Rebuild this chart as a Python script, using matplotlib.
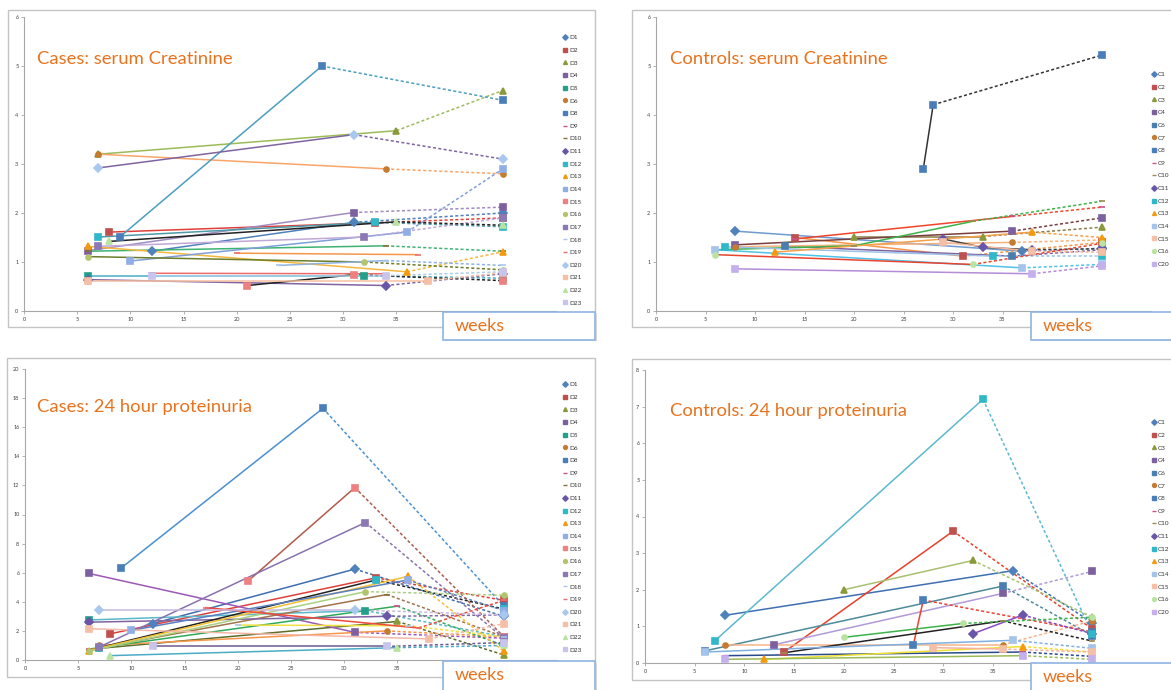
import matplotlib
matplotlib.use("Agg")
import matplotlib.pyplot as plt
from matplotlib.lines import Line2D
from matplotlib.patches import Rectangle

plt.rcParams['font.family'] = ['Lato', 'DejaVu Sans']

# ---- legend entries ----
d_names = ['D1', 'D2', 'D3', 'D4', 'D5', 'D6', 'D8', 'D9', 'D10', 'D11', 'D12',
           'D13', 'D14', 'D15', 'D16', 'D17', 'D18', 'D19', 'D20', 'D21', 'D22', 'D23']
c_names = ['C1', 'C2', 'C3', 'C4', 'C6', 'C7', 'C8', 'C9', 'C10', 'C11', 'C12',
           'C13', 'C14', 'C15', 'C16', 'C20']

# ---- Cases: serum creatinine (weeks, mg/dl) ----
cases_crea_x = [[12, 31, 45], [8, 33, 45], [7, 35, 45], [6, 31, 45], [6, 32, 45],
                [7, 34, 45], [9, 28, 45], [12, 34], [6, 34, 45], [6, 34, 45],
                [7, 33, 45], [6, 36, 45], [10, 36, 45], [21, 31, 45], [6, 32, 45],
                [7, 32, 45], [24, 34, 45], [20, 37], [7, 31, 45], [6, 38, 45],
                [8, 35, 45], [12, 34, 45]]
cases_crea_y = [[1.22, 1.81, 2.0], [1.61, 1.80, 1.90], [3.20, 3.68, 4.50], [1.23, 2.01, 2.12],
                [0.72, 0.72, 0.67], [3.20, 2.90, 2.80], [1.51, 5.00, 4.30], [0.77, 0.76],
                [1.22, 1.33, 1.22], [0.64, 0.52, 0.76], [1.51, 1.81, 1.72], [1.32, 0.80, 1.21],
                [1.02, 1.61, 2.90], [0.52, 0.74, 0.62], [1.11, 1.00, 0.84], [1.32, 1.51, 1.90],
                [0.93, 1.03, 0.93], [1.18, 1.15], [2.92, 3.60, 3.10], [0.62, 0.62, 0.78],
                [1.42, 1.82, 1.75], [0.72, 0.72, 0.80]]

# ---- Controls: serum creatinine ----
ctrl_crea_x = [[8, 37, 45], [14, 31, 45], [20, 33, 45], [8, 36, 45], [13, 36, 45],
               [8, 36, 45], [27, 28, 45], [14, 36, 45], [6, 20, 32, 45], [29, 33, 38, 45],
               [7, 34, 45], [12, 38, 45], [6, 37, 45], [29, 38, 45], [6, 32, 45], [8, 38, 45]]
ctrl_crea_y = [[1.63, 1.22, 1.28], [1.50, 1.12, 1.40], [1.52, 1.52, 1.71], [1.35, 1.63, 1.90],
               [1.32, 1.12, 1.25], [1.31, 1.40, 1.45], [2.90, 4.21, 5.22], [1.47, 1.93, 2.12],
               [1.25, 1.33, 1.83, 2.24], [1.47, 1.30, 1.25, 1.27], [1.31, 1.12, 1.12],
               [1.20, 1.61, 1.50], [1.25, 0.88, 0.95], [1.40, 1.22, 1.20], [1.15, 0.95, 1.38],
               [0.86, 0.76, 0.92]]

# ---- Cases: 24 hour proteinuria (g/24h) ----
cases_prot_x = [[12, 31, 45], [8, 33, 45], [7, 35, 45], [6, 31, 45], [6, 32, 45],
                [7, 34, 45], [9, 28, 45], [6, 35, 45], [6, 34, 45], [6, 34, 45],
                [7, 33, 45], [6, 36, 45], [10, 36, 45], [21, 31, 45], [6, 32, 45],
                [7, 32, 45], [20, 36, 45], [17, 37, 45], [7, 31, 45], [6, 38, 45],
                [8, 35, 45], [12, 34, 45]]
cases_prot_y = [[2.5, 6.25, 3.0], [1.8, 5.65, 4.1], [0.8, 2.65, 0.35], [5.95, 1.9, 1.5],
                [2.75, 3.4, 1.6], [1.0, 2.0, 1.6], [6.3, 17.3, 3.7], [0.75, 3.7, 1.0],
                [0.7, 4.5, 1.6], [2.6, 3.0, 3.1], [0.85, 5.5, 3.5], [0.65, 5.75, 0.6],
                [2.04, 5.5, 3.4], [5.45, 11.85, 1.6], [0.6, 4.7, 4.45], [0.9, 9.45, 1.5],
                [2.4, 2.35, 1.6], [3.6, 2.2, 4.1], [3.45, 3.45, 3.1], [2.15, 1.45, 2.5],
                [0.3, 0.85, 1.0], [0.93, 0.93, 1.2]]

# ---- Controls: 24 hour proteinuria ----
ctrl_prot_x = [[8, 37, 45], [14, 31, 45], [20, 33, 45], [13, 36, 45], [6, 36, 45],
               [8, 36, 45], [27, 28, 45], [8, 38, 45], [14, 36, 45], [33, 38, 45],
               [7, 34, 45], [12, 38, 45], [6, 37, 45], [29, 36, 45], [20, 32, 45], [8, 38, 45]]
ctrl_prot_y = [[1.3, 2.52, 1.1], [0.3, 3.6, 0.93], [2.0, 2.8, 1.25], [0.5, 1.9, 2.5],
               [0.33, 2.1, 0.75], [0.5, 0.5, 1.15], [0.5, 1.72, 0.85], [0.2, 0.3, 0.18],
               [0.28, 1.15, 0.6], [0.8, 1.31, 0.8], [0.6, 7.2, 0.8], [0.1, 0.45, 0.3],
               [0.3, 0.62, 0.4], [0.42, 0.38, 0.3], [0.7, 1.08, 1.25], [0.1, 0.2, 0.1]]

# ---- styles ----
d_markers = ['D', 's', '^', 's', 's', 'o', 's', '_', '_', 'D', 's',
             '^', 's', 's', 'o', 's', '_', '_', 'D', 's', '^', 's']
d_mcolors = ['#4F81BD', '#C0504D', '#8A9A3B', '#7D60A0', '#23A08C', '#C57C30', '#4A7EBB',
             '#D0508A', '#8B6F3A', '#6A56A8', '#2FB8C8', '#F39A0E', '#8FAEE6', '#EE8080',
             '#B2C46C', '#8B78B4', '#A8C8F0', '#F07070', '#A8C8F0', '#F5BFA6', '#B8E4A0',
             '#C8C4EC']
c_markers = ['D', 's', '^', 's', 's', 'o', 's', '_', '_', 'D', 's', '^', 's', 's', 'o', 's']
c_mcolors = ['#4F81BD', '#C0504D', '#8A9A3B', '#7D60A0', '#4A7EAE', '#C57C30', '#4A7EBB',
             '#D0508A', '#9C8A50', '#6A56A8', '#2FB8C8', '#F39A0E', '#A6C4EA', '#F5BFA6',
             '#B8E4A0', '#C4B0EC']

cases_crea_lc = ['#4F81BD', '#E0403A', '#9BBB59', '#A08CC0', '#4BACC6', '#F8A66A', '#4A9EC0',
                 '#F06A6A', '#3CB371', '#8064A2', '#4F9AA8', '#F5B83D', '#7F9FD8', '#222222',
                 '#6B7D2A', '#C0A8D8', '#8DB4E2', '#F7964A', '#8064A2', '#F7C0A0', '#222222',
                 '#A8D0E8']
ctrl_crea_lc = ['#6E9BD0', '#F7964A', '#8B7D4A', '#7A3E3E', '#8064A2', '#F7B27A', '#333333',
                '#F0452A', '#3CB34A', '#404040', '#9CC3E6', '#F7A04A', '#4DC3E8', '#F4B89A',
                '#E8442E', '#B48CD8']
cases_prot_lc = ['#3E6FB0', '#E0403A', '#5A6E2A', '#9B59B6', '#5BB8C8', '#F7964A', '#4A90D0',
                 '#2EAA5A', '#A0744A', '#8064A2', '#222222', '#F5C030', '#5A7FC0', '#B05A4A',
                 '#A8D080', '#8872B0', '#F0E040', '#F04A3A', '#C8B8E0', '#F4B8A8', '#4BACC6',
                 '#6E5A8E']
ctrl_prot_lc = ['#3E6FB0', '#E8402A', '#A8C070', '#B09AD8', '#4F8A9A', '#F7B48A', '#F04030',
                '#2A4A8A', '#222222', '#8A4AC0', '#5BB8D0', '#F0E030', '#7FB0E0', '#F4B0A0',
                '#3CB34A', '#9BBB59']

ORANGE = '#E8731E'
W, H = 1171, 690
fig = plt.figure(figsize=(W / 100, H / 100), dpi=100)


def fig_box(x0, y0, x1, y1):
    # pixel box (top-left origin) -> figure fraction rect
    return [x0 / W, 1 - y1 / H, (x1 - x0) / W, (y1 - y0) / H]


def frame(x0, y0, x1, y1):
    l, b, w, h = fig_box(x0, y0, x1, y1)
    fig.add_artist(Rectangle((l, b), w, h, transform=fig.transFigure, fill=False,
                             ec='#C4C4C4', lw=1.0, zorder=0))


def weeks_box(x0, y0, x1, y1):
    l, b, w, h = fig_box(x0, y0, x1, y1)
    fig.add_artist(Rectangle((l + 1.5 / W, b - 1.5 / H), w, h, transform=fig.transFigure,
                             fc='#D8D8D8', ec='none', zorder=9))
    fig.add_artist(Rectangle((l, b), w, h, transform=fig.transFigure, fc='white',
                             ec='#8EB4E3', lw=1.2, zorder=10))
    fig.text((x0 + 12) / W, 1 - (y0 + 14) / H, 'weeks', color=ORANGE, fontsize=13,
             va='center', ha='left', zorder=11)


def panel(rect, xs, ys, names, markers, mcolors, lcolors, ymax, ystep, title, tpos, legpos):
    ax = fig.add_axes(fig_box(*rect))
    for x, y, m, mc, lc in zip(xs, ys, markers, mcolors, lcolors):
        if x[-1] == 45 and len(x) > 1:
            if len(x) > 2:
                ax.plot(x[:-1], y[:-1], color=lc, lw=1.1, zorder=2)
            ax.plot(x[-2:], y[-2:], color=lc, lw=1.1, ls=(0, (2, 1.5)), zorder=2)
        else:
            ax.plot(x, y, color=lc, lw=1.1, zorder=2)
        ms = 5 if m == '_' else (3.6 if m in ('D', 'o') else 4.5)
        ax.plot(x, y, ls='none', marker=m, ms=ms, mfc=mc, mec=mc, mew=1.2, zorder=3)
    ax.set_xlim(0, 50)
    ax.set_ylim(0, ymax)
    xt = list(range(0, 51, 5))
    ax.set_xticks(xt)
    # labels from 40 on sit under the "weeks" box in the original
    ax.set_xticklabels([str(v) if v < 40 else '' for v in xt])
    ax.set_yticks([v * ystep for v in range(int(ymax / ystep) + 1)])
    for s in ('top', 'right'):
        ax.spines[s].set_visible(False)
    for s in ('left', 'bottom'):
        ax.spines[s].set_color('#A6A6A6')
        ax.spines[s].set_linewidth(0.8)
    ax.tick_params(labelsize=4, length=2, width=0.6, color='#A6A6A6',
                   labelcolor='#404040', pad=2)
    ax.set_facecolor('none')
    fig.text(tpos[0] / W, 1 - tpos[1] / H, title, color=ORANGE, fontsize=13.3,
             va='center', ha='left')
    handles = [Line2D([], [], ls='none', marker=m, color=mc,
                      ms=3.4 if m == '_' else 2.8, mew=1.0)
               for m, mc in zip(markers, mcolors)]
    fig.legend(handles, names, loc='upper left',
               bbox_to_anchor=(legpos[0] / W, 1 - legpos[1] / H),
               frameon=False, fontsize=4.6, labelspacing=1.12, handlelength=0.7,
               handletextpad=0.25, borderpad=0, borderaxespad=0, labelcolor='#333333')
    return ax


# frames of the four chart areas
frame(8, 10, 595, 327)
frame(632, 10, 1200, 327)
frame(7, 358, 595, 677)
frame(632, 359, 1200, 680)

panel((24, 17, 556, 311), cases_crea_x, cases_crea_y, d_names, d_markers, d_mcolors,
      cases_crea_lc, 6, 1, 'Cases: serum Creatinine', (37, 59), (563, 35))
panel((656, 17, 1151, 311), ctrl_crea_x, ctrl_crea_y, c_names, c_markers, c_mcolors,
      ctrl_crea_lc, 6, 1, 'Controls: serum Creatinine', (670, 59), (1152, 72))
panel((25, 369, 557, 660), cases_prot_x, cases_prot_y, d_names, d_markers, d_mcolors,
      cases_prot_lc, 20, 2, 'Cases: 24 hour proteinuria', (37, 407), (563, 382))
panel((645, 370, 1142, 663), ctrl_prot_x, ctrl_prot_y, c_names, c_markers, c_mcolors,
      ctrl_prot_lc, 8, 1, 'Controls: 24 hour proteinuria', (670, 411), (1152, 420))

weeks_box(443, 312, 595, 340)
weeks_box(1031, 312, 1200, 340)
weeks_box(443, 661, 595, 700)
weeks_box(1031, 663, 1200, 700)

fig.savefig('out.png', dpi=100, facecolor='white')
